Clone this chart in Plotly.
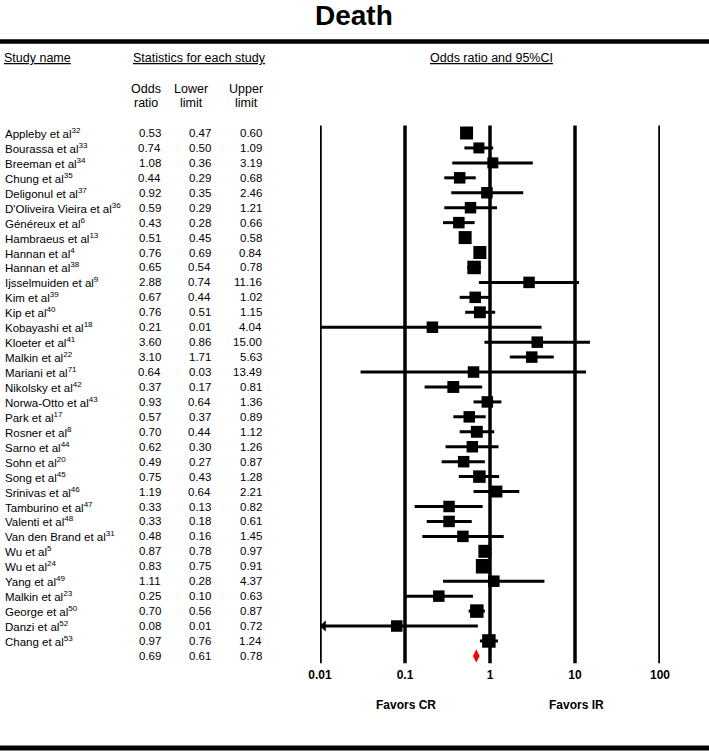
import math
import plotly.graph_objects as go

# ---------------- data ----------------
studies = [
    "Appleby et al<sup>32</sup>", "Bourassa et al<sup>33</sup>", "Breeman et al<sup>34</sup>",
    "Chung et al<sup>35</sup>", "Deligonul et al<sup>37</sup>", "D'Oliveira Vieira et al<sup>36</sup>",
    "Généreux et al<sup>6</sup>", "Hambraeus et al<sup>13</sup>", "Hannan et al<sup>4</sup>",
    "Hannan et al<sup>38</sup>", "Ijsselmuiden et al<sup>9</sup>", "Kim et al<sup>39</sup>",
    "Kip et al<sup>40</sup>", "Kobayashi et al<sup>18</sup>", "Kloeter et al<sup>41</sup>",
    "Malkin et al<sup>22</sup>", "Mariani et al<sup>71</sup>", "Nikolsky et al<sup>42</sup>",
    "Norwa-Otto et al<sup>43</sup>", "Park et al<sup>17</sup>", "Rosner et al<sup>8</sup>",
    "Sarno et al<sup>44</sup>", "Sohn et al<sup>20</sup>", "Song et al<sup>45</sup>",
    "Srinivas et al<sup>46</sup>", "Tamburino et al<sup>47</sup>", "Valenti et al<sup>48</sup>",
    "Van den Brand et al<sup>31</sup>", "Wu et al<sup>5</sup>", "Wu et al<sup>24</sup>",
    "Yang et al<sup>49</sup>", "Malkin et al<sup>23</sup>", "George et al<sup>50</sup>",
    "Danzi et al<sup>52</sup>", "Chang et al<sup>53</sup>",
]
odds = [0.53, 0.74, 1.08, 0.44, 0.92, 0.59, 0.43, 0.51, 0.76, 0.65, 2.88, 0.67, 0.76,
        0.21, 3.60, 3.10, 0.64, 0.37, 0.93, 0.57, 0.70, 0.62, 0.49, 0.75, 1.19, 0.33,
        0.33, 0.48, 0.87, 0.83, 1.11, 0.25, 0.70, 0.08, 0.97]
lower = [0.47, 0.50, 0.36, 0.29, 0.35, 0.29, 0.28, 0.45, 0.69, 0.54, 0.74, 0.44, 0.51,
         0.01, 0.86, 1.71, 0.03, 0.17, 0.64, 0.37, 0.44, 0.30, 0.27, 0.43, 0.64, 0.13,
         0.18, 0.16, 0.78, 0.75, 0.28, 0.10, 0.56, 0.01, 0.76]
upper = [0.60, 1.09, 3.19, 0.68, 2.46, 1.21, 0.66, 0.58, 0.84, 0.78, 11.16, 1.02, 1.15,
         4.04, 15.00, 5.63, 13.49, 0.81, 1.36, 0.89, 1.12, 1.26, 0.87, 1.28, 2.21, 0.82,
         0.61, 1.45, 0.97, 0.91, 4.37, 0.63, 0.87, 0.72, 1.24]
# relative study weight (drives square size)
weights = [1.75, 0.75, 0.75, 1.0, 1.0, 1.0, 1.0, 1.75, 1.75, 2.0, 1.0, 1.0, 1.2,
           1.0, 1.0, 1.0, 1.0, 1.2, 1.0, 1.0, 1.2, 1.0, 1.0, 1.5, 1.2, 1.0,
           1.0, 1.0, 1.75, 2.5, 1.0, 1.0, 2.0, 1.0, 2.0]
# studies whose lower limit runs off the left edge of the scale (drawn with an arrow)
off_scale_low = ["Danzi et al<sup>52</sup>"]
summary = (0.69, 0.61, 0.78)
tick_vals = [0.01, 0.1, 1, 10, 100]
tick_text = ["0.01", "0.1", "1", "10", "100"]

# ---------------- layout helpers ----------------
W, H = 709, 751
NARROW = "Liberation Sans Narrow, Arial Narrow, Liberation Sans, Arial, sans-serif"
SANS = "Liberation Sans, Arial, sans-serif"
n = len(studies)
rows = list(range(n))
summary_row = n

def px(x):
    return x / W

def py(y):
    return 1 - y / H

fig = go.Figure()

# vertical reference lines
gx, gy = [], []
for v in tick_vals:
    gx += [v, v, None]
    gy += [-0.5, summary_row + 0.5, None]
fig.add_trace(go.Scatter(x=gx, y=gy, mode="lines",
                         line=dict(color="black", width=3.5), hoverinfo="skip"))

# confidence intervals
cx, cy = [], []
for i in rows:
    cx += [lower[i], upper[i], None]
    cy += [i, i, None]
fig.add_trace(go.Scatter(x=cx, y=cy, mode="lines",
                         line=dict(color="black", width=3), hoverinfo="skip"))

# study squares
fig.add_trace(go.Scatter(x=odds, y=rows, mode="markers",
                         marker=dict(symbol="square", color="black", opacity=1,
                                     size=[9.5 + 2 * w for w in weights],
                                     line=dict(width=0)),
                         hoverinfo="skip"))

# summary diamond
fig.add_trace(go.Scatter(x=[summary[0]], y=[summary_row], mode="markers",
                         marker=dict(symbol="diamond-tall", color="#ff0000", size=9.5,
                                     opacity=1, line=dict(width=0)),
                         hoverinfo="skip"))

annotations = []
# arrow for CIs running off the scale
for i in rows:
    if studies[i] in off_scale_low:
        annotations.append(dict(x=math.log10(tick_vals[0]), y=i, xref="x", yref="y",
                                ax=math.log10(tick_vals[0]) + 0.25, ay=i, axref="x", ayref="y",
                                showarrow=True, arrowhead=1, arrowsize=1.2, arrowwidth=1.6,
                                arrowcolor="black", text="", standoff=0))

# table text
col_name_x = 3
col_or_x, col_lo_x, col_hi_x = 163, 213, 264
fs = 11.5
for i in rows + [summary_row]:
    if i < n:
        annotations.append(dict(x=px(col_name_x), y=i, xref="paper", yref="y", text=studies[i],
                                showarrow=False, xanchor="left", yanchor="middle",
                                font=dict(family=SANS, size=fs, color="black")))
        vals = (odds[i], lower[i], upper[i])
    else:
        vals = summary
    for xx, v in zip((col_or_x, col_lo_x, col_hi_x), vals):
        annotations.append(dict(x=px(xx), y=i, xref="paper", yref="y", text=f"{v:.2f}",
                                showarrow=False, xanchor="right", yanchor="middle",
                                font=dict(family=SANS, size=fs, color="black")))

# headers
def hdr(text, x, y, size=12.5, anchor="center", bold=False):
    annotations.append(dict(x=px(x), y=py(y), xref="paper", yref="paper",
                            text=f"<b>{text}</b>" if bold else text,
                            showarrow=False, xanchor=anchor, yanchor="middle",
                            font=dict(family=NARROW, size=size, color="black")))

hdr("Death", 354, 15.5, size=28, bold=True)
hdr("<u>Study name</u>", 2, 58, anchor="left")
hdr("<u>Statistics for each study</u>", 199, 58)
hdr("<u>Odds ratio and 95%CI</u>", 491, 58)
for x, (a, b) in zip((146, 191, 246), (("Odds", "ratio"), ("Lower", "limit"), ("Upper", "limit"))):
    hdr(a, x, 89)
    hdr(b, x, 103)
hdr("<b>Favors CR</b>", 406, 705, size=12)
hdr("<b>Favors IR</b>", 576, 705, size=12)

# thick rules
shapes = [
    dict(type="line", xref="paper", yref="paper", x0=0, x1=1, y0=py(41.5), y1=py(41.5),
         line=dict(color="black", width=4.5)),
    dict(type="line", xref="paper", yref="paper", x0=0, x1=1, y0=py(748), y1=py(748),
         line=dict(color="black", width=5)),
]

plot_bottom = 664
row0, step = 133, 14.94
y_top = -row0 / step
y_bot = y_top + plot_bottom / step

fig.update_layout(
    template="none",
    width=W, height=H, margin=dict(l=0, r=0, t=0, b=0, autoexpand=False),
    paper_bgcolor="white", plot_bgcolor="white", showlegend=False,
    xaxis=dict(type="log", range=[math.log10(tick_vals[0]), math.log10(tick_vals[-1])],
               domain=[px(320), px(660)], showgrid=False, zeroline=False, showline=False,
               automargin=False,
               tickmode="array", tickvals=tick_vals,
               ticktext=[f"<b>{t}</b>" for t in tick_text], ticks="",
               ticklabelstandoff=2,
               tickfont=dict(family=NARROW, size=12, color="black")),
    yaxis=dict(range=[y_bot, y_top], domain=[1 - plot_bottom / H, 1], visible=False,
               automargin=False),
    annotations=annotations, shapes=shapes,
)

fig.write_html(
    "out.html",
    config={"responsive": False, "displayModeBar": False},
    post_script="document.body.style.margin='0';document.body.style.overflow='hidden';",
)
